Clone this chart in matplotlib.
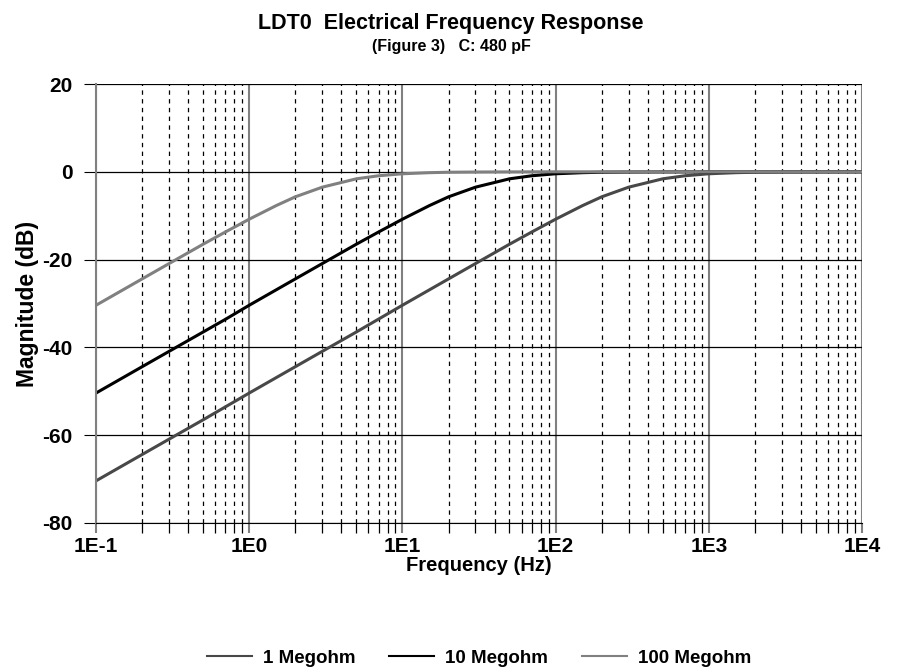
import matplotlib
matplotlib.use("Agg")
import matplotlib.pyplot as plt
from matplotlib.ticker import LogLocator, FixedLocator, NullFormatter

plt.rcParams['font.family'] = ['Liberation Sans', 'DejaVu Sans']
plt.rcParams['font.weight'] = 'bold'
plt.rcParams['axes.unicode_minus'] = False

# values (Hz, dB)
freq_100m = [0.1, 0.2, 0.3, 0.5, 0.7, 1, 1.5, 2, 3, 5, 7, 10, 15, 20, 30, 50, 100, 1000, 10000]
mag_100m = [-30.4, -24.4, -20.9, -16.5, -13.7, -10.8, -7.7, -5.7, -3.5, -1.6, -0.9, -0.45, -0.2, -0.1, -0.05, -0.02, 0, 0, 0]

freq_10m = [0.1, 0.2, 0.3, 0.5, 0.7, 1, 2, 3, 5, 7, 10, 15, 20, 30, 50, 70, 100, 150, 200, 300, 500, 1000, 10000]
mag_10m = [-50.4, -44.4, -40.9, -36.5, -33.6, -30.4, -24.4, -20.9, -16.5, -13.7, -10.8, -7.7, -5.7, -3.5, -1.6, -0.9, -0.45, -0.2, -0.1, -0.05, -0.02, 0, 0]

freq_1m = [0.1, 0.2, 0.3, 0.5, 1, 2, 3, 5, 10, 20, 30, 50, 70, 100, 150, 200, 300, 500, 700, 1000, 1500, 2000, 3000, 5000, 10000]
mag_1m = [-70.4, -64.4, -60.9, -56.5, -50.4, -44.4, -40.9, -36.5, -30.4, -24.4, -20.9, -16.5, -13.7, -10.8, -7.7, -5.7, -3.5, -1.6, -0.9, -0.45, -0.2, -0.1, -0.05, -0.02, 0]

x_ticks = [0.1, 1, 10, 100, 1000, 10000]
x_labels = ["1E-1", "1E0", "1E1", "1E2", "1E3", "1E4"]
y_ticks = [-80, -60, -40, -20, 0, 20]

fig = plt.figure(figsize=(9.02, 6.67), dpi=100)
ax = fig.add_axes([96 / 902, 1 - 523 / 667, (862 - 96) / 902, (523 - 84) / 667])

ax.plot(freq_1m, mag_1m, color='#484848', lw=2.2, label='1 Megohm')
ax.plot(freq_10m, mag_10m, color='black', lw=2.2, label='10 Megohm')
ax.plot(freq_100m, mag_100m, color='#808080', lw=2.2, label='100 Megohm')

ax.set_xscale('log')
ax.set_xlim(0.1, 10000)
ax.set_ylim(-80, 20)
ax.xaxis.set_major_locator(FixedLocator(x_ticks))
ax.set_xticklabels(x_labels)
ax.xaxis.set_minor_locator(LogLocator(base=10, subs=range(2, 10)))
ax.xaxis.set_minor_formatter(NullFormatter())
ax.set_yticks(y_ticks)

ax.grid(True, which='major', axis='x', color='#808080', lw=1.5)
ax.grid(True, which='minor', axis='x', color='black', lw=0.9, ls=(0, (3.5, 3.5)))
ax.grid(True, which='major', axis='y', color='black', lw=0.9)
ax.set_axisbelow(True)

for s in ['top', 'right']:
    ax.spines[s].set_visible(False)
ax.spines['left'].set_color('#808080')
ax.spines['left'].set_linewidth(1.5)
ax.spines['bottom'].set_color('black')
ax.tick_params(axis='x', which='major', direction='out', length=7, width=1.5, color='#808080', labelsize=15, pad=3)
ax.tick_params(axis='x', which='minor', direction='out', length=7, width=0.9, color='black')
ax.tick_params(axis='y', direction='out', length=9, color='black', labelsize=15, pad=8)
for lbl in ax.get_xticklabels() + ax.get_yticklabels():
    lbl.set_fontweight('bold')

ax.set_xlabel("Frequency (Hz)", fontsize=14.5, fontweight='bold', labelpad=0)
ax.set_ylabel("Magnitude (dB)", fontsize=16.5, fontweight='bold', labelpad=2)

fig.text(0.5, 1 - 23 / 667, "LDT0  Electrical Frequency Response", ha='center', va='center',
         fontsize=15.5, fontweight='bold')
fig.text(0.5, 1 - 46 / 667, "(Figure 3)   C: 480 pF", ha='center', va='center',
         fontsize=11.5, fontweight='bold')

leg = fig.legend(loc='center', bbox_to_anchor=(479 / 902, 1 - 658 / 667), ncol=3, frameon=False,
                 handlelength=2.4, handletextpad=0.6, columnspacing=1.8,
                 prop={'weight': 'bold', 'size': 13.5})
for h in leg.legend_handles:
    h.set_linewidth(1.5)

fig.savefig("out.png", dpi=100)
